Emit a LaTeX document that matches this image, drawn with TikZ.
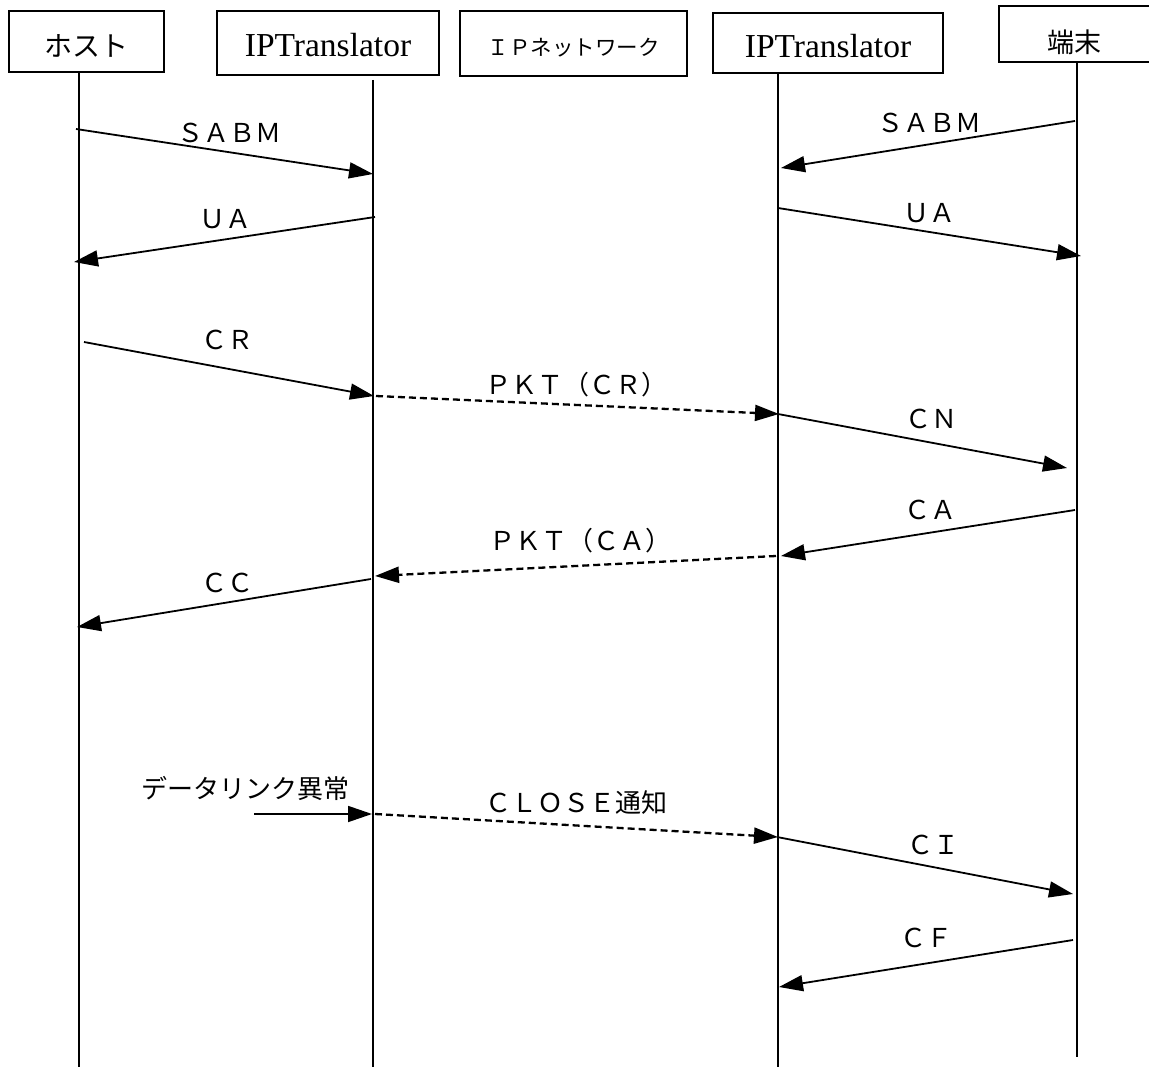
\documentclass[tikz,border=0pt]{standalone}
\usepackage{fontspec}
\newfontfamily\jp{Noto Sans CJK JP}
\newfontfamily\ser{Liberation Serif}
\usetikzlibrary{arrows.meta}
\begin{document}
\begin{tikzpicture}[x=1pt,y=-1pt,
  actor/.style={draw,line width=1.7pt,inner sep=0pt,anchor=center,text depth=2pt},
  life/.style={line width=1.6pt},
  msg/.style={line width=1.8pt,-{Triangle[length=24pt,width=16pt]}},
  dmsg/.style={msg,line width=2.3pt,dash pattern=on 7pt off 4pt},
  lbl/.style={font=\jp\fontsize{26}{30}\selectfont,inner sep=0pt,anchor=center}]
\clip (0,0) rectangle (1149,1067);
\fill[white] (0,0) rectangle (1149,1067);

% actor boxes
\node[actor,minimum width=155pt,minimum height=61pt,text height=32pt,
  font=\jp\fontsize{28}{32}\selectfont] (host) at (86.5,41.5) {ホスト};
\node[actor,minimum width=222pt,minimum height=64pt,text height=30pt,
  font=\ser\fontsize{33.5}{38}\selectfont] (ipt1) at (328,43) {IPTranslator};
\node[actor,minimum width=227pt,minimum height=65pt,text height=26pt,
  font=\jp\fontsize{21.5}{25}\selectfont] (ipnet) at (573.5,43.5) {ＩＰネットワーク};
\node[actor,minimum width=230pt,minimum height=60pt,text height=32pt,
  font=\ser\fontsize{33.5}{38}\selectfont] (ipt2) at (828,43) {IPTranslator};
\node[actor,minimum width=170pt,minimum height=56pt,text height=39pt,
  font=\jp\fontsize{27}{31}\selectfont] (term) at (1084,34) {端末\kern20pt};

% lifelines
\coordinate (hT) at (79,72);      \coordinate (hB) at (79,1067);
\coordinate (aT) at (373,80);     \coordinate (aB) at (373,1067);
\coordinate (bT) at (778,73);     \coordinate (bB) at (778,1067);
\coordinate (tT) at (1077,62);    \coordinate (tB) at (1077,1057);
\draw[life] (hT) -- (hB);
\draw[life] (aT) -- (aB);
\draw[life] (bT) -- (bB);
\draw[life] (tT) -- (tB);

% message end points
\coordinate (m1s) at (76,129);    \coordinate (m1e) at (373,174);
\coordinate (m2s) at (375,217);   \coordinate (m2e) at (74,262);
\coordinate (m3s) at (1075,121);  \coordinate (m3e) at (781,168);
\coordinate (m4s) at (778,208);   \coordinate (m4e) at (1081,256);
\coordinate (m5s) at (84,342);    \coordinate (m5e) at (374,396);
\coordinate (m6s) at (376,396);   \coordinate (m6e) at (779,414);
\coordinate (m7s) at (778,414);   \coordinate (m7e) at (1067,468);
\coordinate (m8s) at (1075,510);  \coordinate (m8e) at (781,556);
\coordinate (m9s) at (776,556);   \coordinate (m9e) at (375,576);
\coordinate (m10s) at (371,579);  \coordinate (m10e) at (77,627);
\coordinate (m11s) at (254,814);  \coordinate (m11e) at (372,814);
\coordinate (m12s) at (375,814);  \coordinate (m12e) at (778,837);
\coordinate (m13s) at (777,837);  \coordinate (m13e) at (1073,894);
\coordinate (m14s) at (1073,940); \coordinate (m14e) at (779,987);

\draw[msg]  (m1s) -- (m1e);
\draw[msg]  (m2s) -- (m2e);
\draw[msg]  (m3s) -- (m3e);
\draw[msg]  (m4s) -- (m4e);
\draw[msg]  (m5s) -- (m5e);
\draw[dmsg] (m6s) -- (m6e);
\draw[msg]  (m7s) -- (m7e);
\draw[msg]  (m8s) -- (m8e);
\draw[dmsg] (m9s) -- (m9e);
\draw[msg]  (m10s) -- (m10e);
\draw[msg]  (m11s) -- (m11e);
\draw[dmsg] (m12s) -- (m12e);
\draw[msg]  (m13s) -- (m13e);
\draw[msg]  (m14s) -- (m14e);

% labels
\node[lbl] (l1)  at (229,133) {ＳＡＢＭ};
\node[lbl] (l2)  at (225,219) {ＵＡ};
\node[lbl] (l3)  at (929,123) {ＳＡＢＭ};
\node[lbl] (l4)  at (929,213) {ＵＡ};
\node[lbl] (l5)  at (227,340) {ＣＲ};
\node[lbl] (l6)  at (576,385) {ＰＫＴ（ＣＲ）};
\node[lbl] (l7)  at (931,419) {ＣＮ};
\node[lbl] (l8)  at (930,510) {ＣＡ};
\node[lbl] (l9)  at (580,541) {ＰＫＴ（ＣＡ）};
\node[lbl] (l10) at (227,583) {ＣＣ};
\node[lbl] (l11) at (245,788) {データリンク異常};
\node[lbl] (l12) at (576,803) {ＣＬＯＳＥ通知};
\node[lbl] (l13) at (933,845) {ＣＩ};
\node[lbl] (l14) at (926,938) {ＣＦ};
\end{tikzpicture}
\end{document}
